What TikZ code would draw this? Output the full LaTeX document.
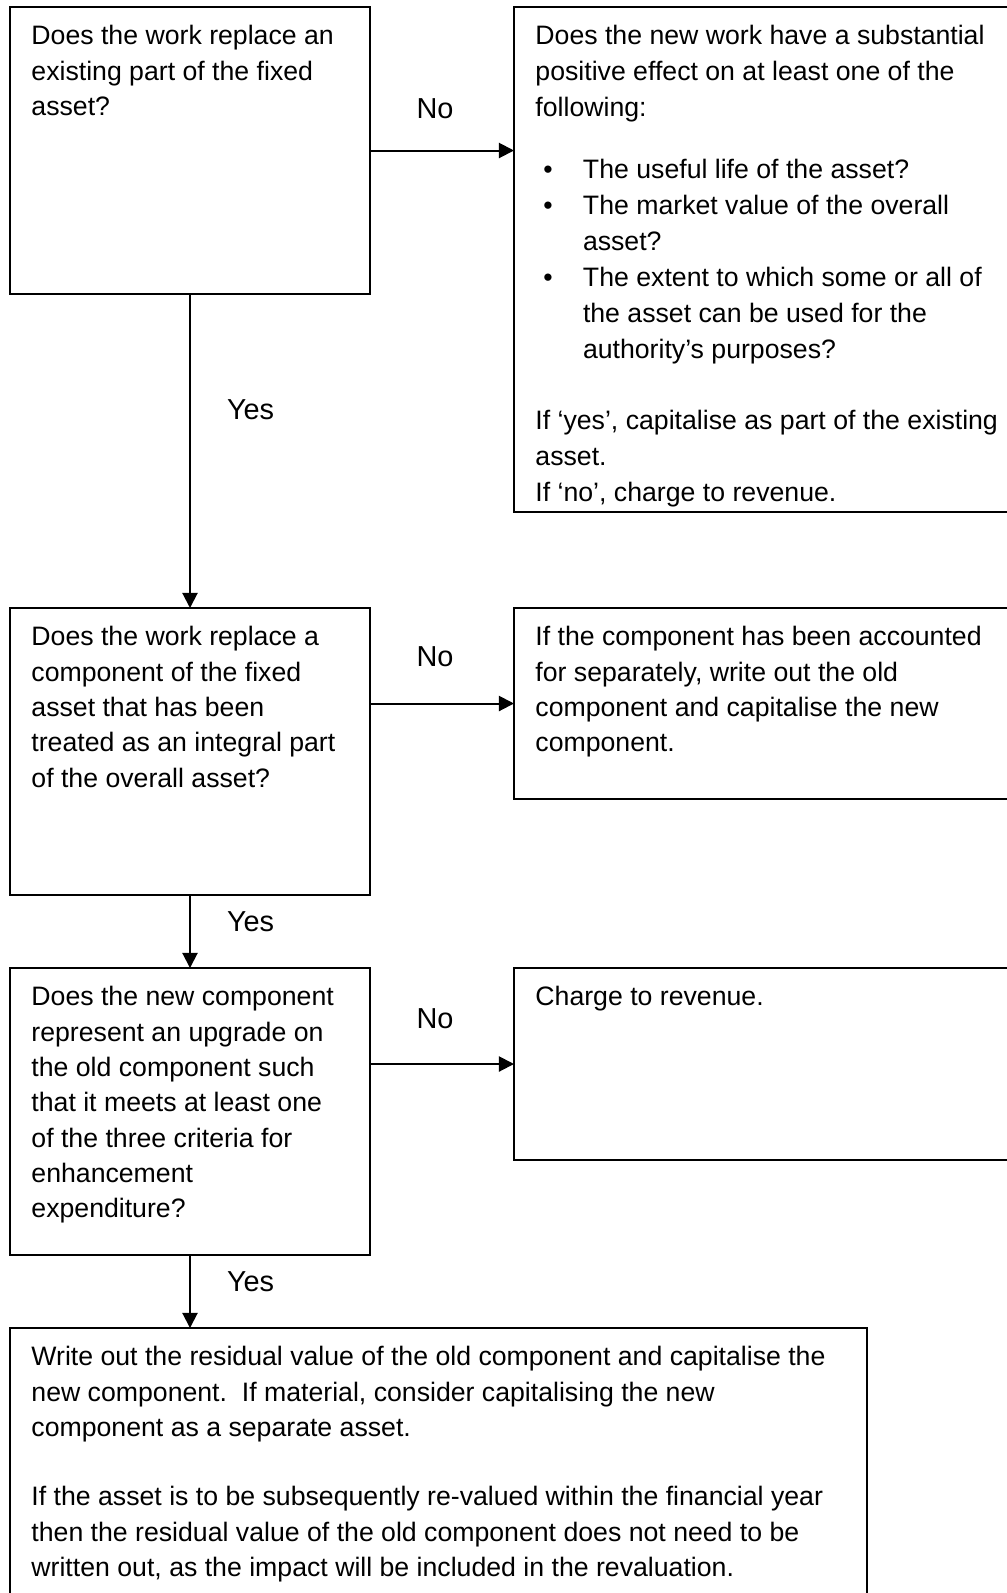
\documentclass[tikz,border=0pt]{standalone}
\usepackage{fontspec}
\setmainfont{Liberation Sans}
\usetikzlibrary{positioning, arrows.meta}

\newcommand{\pxu}{0.45pt}
\newcommand{\bul}{\hspace*{3.6pt}\makebox[17.8pt][l]{\textbullet}}
\newcommand{\ind}{\hspace*{21.4pt}}

\begin{document}
\begin{tikzpicture}[
    x=0.45pt, y=-0.45pt,
    box/.style={draw, line width=0.9pt, rectangle, inner sep=0pt, outer sep=0pt, anchor=north west},
    txt/.style={anchor=north west, align=left, inner sep=0pt, font=\fontsize{12}{15.9}\selectfont,
      execute at begin node=\strut, xshift=21*\pxu, yshift=-18*\pxu},
    lbl/.style={inner sep=0pt, font=\fontsize{13}{15}\selectfont},
    arr/.style={line width=0.9pt, -{Triangle[length=6.8pt, width=6.8pt]}}
  ]

  \useasboundingbox (0,0) rectangle (1007,1593);

  % questions on the left, answers on the right
  \node[box, minimum width=360*\pxu, minimum height=287*\pxu] (qone) at (10,7) {};
  \node[box, minimum width=540*\pxu, minimum height=505*\pxu, right=144*\pxu of qone.north east, anchor=north west] (aone) {};

  \node[box, minimum width=360*\pxu, minimum height=287*\pxu, below=314*\pxu of qone.south, anchor=north] (qtwo) {};
  \node[box, minimum width=540*\pxu, minimum height=191*\pxu, right=144*\pxu of qtwo.north east, anchor=north west] (atwo) {};

  \node[box, minimum width=360*\pxu, minimum height=287*\pxu, below=73*\pxu of qtwo.south, anchor=north] (qthree) {};
  \node[box, minimum width=540*\pxu, minimum height=192*\pxu, right=144*\pxu of qthree.north east, anchor=north west] (athree) {};

  \node[box, minimum width=857*\pxu, minimum height=330*\pxu, below=73*\pxu of qthree.south west, anchor=north west] (final) {};

  % texts
  \node[txt] (tqone) at (qone.north west)
    {Does the work replace an\\existing part of the fixed\\asset?};
  \node[txt, font=\fontsize{12}{16.2}\selectfont] (taone) at (aone.north west)
    {Does the new work have a substantial\\positive effect on at least one of the\\following:\\[11.7pt]
     \bul The useful life of the asset?\\
     \bul The market value of the overall\\
     \ind asset?\\
     \bul The extent to which some or all of\\
     \ind the asset can be used for the\\
     \ind authority’s purposes?\\[15.5pt]
     If ‘yes’, capitalise as part of the existing\\asset.\\If ‘no’, charge to revenue.};

  \node[txt] (tqtwo) at (qtwo.north west)
    {Does the work replace a\\component of the fixed\\asset that has been\\treated as an integral part\\of the overall asset?};
  \node[txt] (tatwo) at (atwo.north west)
    {If the component has been accounted\\for separately, write out the old\\component and capitalise the new\\component.};

  \node[txt] (tqthree) at (qthree.north west)
    {Does the new component\\represent an upgrade on\\the old component such\\that it meets at least one\\of the three criteria for\\enhancement\\expenditure?};
  \node[txt, yshift=6*\pxu] (tathree) at (athree.north west)
    {Charge to revenue.};

  \node[txt] (tfinal) at (final.north west)
    {Write out the residual value of the old component and capitalise the\\new component.\ \ If material, consider capitalising the new\\component as a separate asset.\\[15.3pt]
     If the asset is to be subsequently re-valued within the financial year\\then the residual value of the old component does not need to be\\written out, as the impact will be included in the revaluation.};

  % connectors
  \draw[arr] (qone.east) -- (qone.east -| aone.west)
    node[lbl, midway, above=31*\pxu, xshift=-7*\pxu] (noone) {No};
  \draw[arr] (qone.south) -- (qtwo.north)
    node[lbl, pos=0.37, right=36*\pxu] (yesone) {Yes};

  \draw[arr] (atwo.west -| qtwo.east) -- (atwo.west)
    node[lbl, midway, above=36*\pxu, xshift=-7*\pxu] (notwo) {No};
  \draw[arr] (qtwo.south) -- (qthree.north)
    node[lbl, pos=0.37, right=36*\pxu] (yestwo) {Yes};

  \draw[arr] (athree.west -| qthree.east) -- (athree.west)
    node[lbl, midway, above=34*\pxu, xshift=-7*\pxu] (nothree) {No};
  \draw[arr] (qthree.south) -- (qthree.south |- final.north)
    node[lbl, pos=0.37, right=36*\pxu] (yesthree) {Yes};

\end{tikzpicture}
\end{document}
